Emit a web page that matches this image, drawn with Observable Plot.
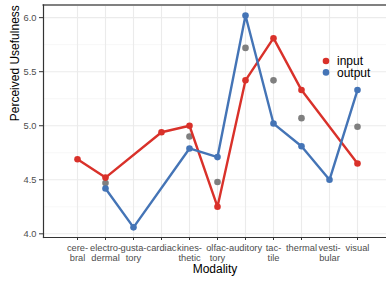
<!DOCTYPE html>
<html>
<head>
<meta charset="utf-8">
<script src="https://cdn.jsdelivr.net/npm/d3@7"></script>
<script src="https://cdn.jsdelivr.net/npm/@observablehq/plot@0.6"></script>
<style>
  html, body { margin: 0; padding: 0; background: #fff; }
  #chart { width: 386px; height: 282px; }
  svg { font-family: "Liberation Sans", Arial, sans-serif; }
</style>
</head>
<body>
<div id="chart"></div>
<script>
const categories = ["cerebral","electrodermal","gustatory","cardiac","kinesthetic","olfactory","auditory","tactile","thermal","vestibular","visual"];
const tickLabels = ["cere-\nbral","electro-\ndermal","gusta-\ntory","cardiac","kines-\nthetic","olfac-\ntory","auditory","tac-\ntile","thermal","vesti-\nbular","visual"];
const inputValues  = [4.69, 4.52, null, 4.94, 5.00, 4.25, 5.42, 5.81, 5.33, null, 4.65];
const outputValues = [null, 4.42, 4.06, null, 4.79, 4.71, 6.02, 5.02, 4.81, 4.50, 5.33];
const overallValues = [null, 4.47, null, null, 4.90, 4.48, 5.72, 5.42, 5.07, null, 4.99];
const yTicks = [4.0, 4.5, 5.0, 5.5, 6.0];
const yMinor = [4.25, 4.75, 5.25, 5.75];
const seriesNames = ["input", "output"];
const seriesColors = ["#d9312a", "#4474b6"];

const toRows = (vals, series) => categories.map((c, i) => ({modality: c, value: vals[i], series}))
  .filter(d => d.value != null);
const inputRows = toRows(inputValues, "input");
const outputRows = toRows(outputValues, "output");
const overallRows = toRows(overallValues, "overall");
const labelLines = new Map(categories.map((c, i) => [c, tickLabels[i].split("\n")]));

const legendMarks = seriesNames.flatMap((name, i) => [
  Plot.dot([name], {frameAnchor: "top-left", dx: 282.5, dy: 56 + i * 11.4, r: 3.3, fill: seriesColors[i]}),
  Plot.text([name], {frameAnchor: "top-left", dx: 293.5, dy: 56.3 + i * 11.4, textAnchor: "start", lineAnchor: "middle", fontSize: 12, fill: "#000"})
]);

const plot = Plot.plot({
  width: 386,
  height: 282,
  marginLeft: 43,
  marginRight: 0,
  marginTop: 4.5,
  marginBottom: 45,
  style: {fontFamily: "Liberation Sans, Arial, sans-serif", background: "#fff"},
  x: {type: "point", domain: categories, range: [62, 372]},
  y: {domain: [3.966, 6.117]},
  color: {domain: seriesNames, range: seriesColors},
  marks: [
    Plot.gridY(yMinor, {stroke: "#f2f2f2", strokeOpacity: 1, strokeWidth: 0.6}),
    Plot.gridY(yTicks, {stroke: "#ebebeb", strokeOpacity: 1, strokeWidth: 1.1}),
    Plot.gridX(categories, {stroke: "#ebebeb", strokeOpacity: 1, strokeWidth: 1.1}),
    Plot.frame({anchor: "top", stroke: "#808080", strokeWidth: 2}),
    Plot.frame({anchor: "left", stroke: "#333", strokeWidth: 1.2}),
    Plot.frame({anchor: "bottom", stroke: "#333", strokeWidth: 1.2}),
    Plot.axisY(yTicks, {tickSize: 4, tickPadding: 3, tickFormat: d => d.toFixed(1), fontSize: 9.3, fill: "#4d4d4d", stroke: "#333", label: null}),
    Plot.axisX(categories, {tickSize: 3, tickFormat: () => "", stroke: "#333", label: null}),
    Plot.text(categories, {x: d => d, text: d => labelLines.get(d)[0], frameAnchor: "bottom", dy: 10.7, lineAnchor: "middle", fontSize: 9.3, fill: "#4d4d4d"}),
    Plot.text(categories.filter(c => labelLines.get(c).length > 1), {x: d => d, text: d => labelLines.get(d)[1], frameAnchor: "bottom", dy: 20.6, lineAnchor: "middle", fontSize: 9.3, fill: "#4d4d4d"}),
    Plot.text(["Modality"], {frameAnchor: "bottom", dy: 32, lineAnchor: "middle", fontSize: 12, fill: "#000"}),
    Plot.text(["Perceived Usefulness"], {frameAnchor: "left", dx: -28, rotate: -90, lineAnchor: "middle", fontSize: 12, fill: "#000"}),
    Plot.dot(overallRows, {x: "modality", y: "value", r: 3.3, fill: "#7f7f7f"}),
    Plot.line(inputRows, {x: "modality", y: "value", stroke: "series", strokeWidth: 2.4}),
    Plot.dot(inputRows, {x: "modality", y: "value", r: 3.3, fill: "series"}),
    Plot.line(outputRows, {x: "modality", y: "value", stroke: "series", strokeWidth: 2.4}),
    Plot.dot(outputRows, {x: "modality", y: "value", r: 3.3, fill: "series"}),
    ...legendMarks
  ]
});
document.getElementById("chart").appendChild(plot);
</script>
</body>
</html>
